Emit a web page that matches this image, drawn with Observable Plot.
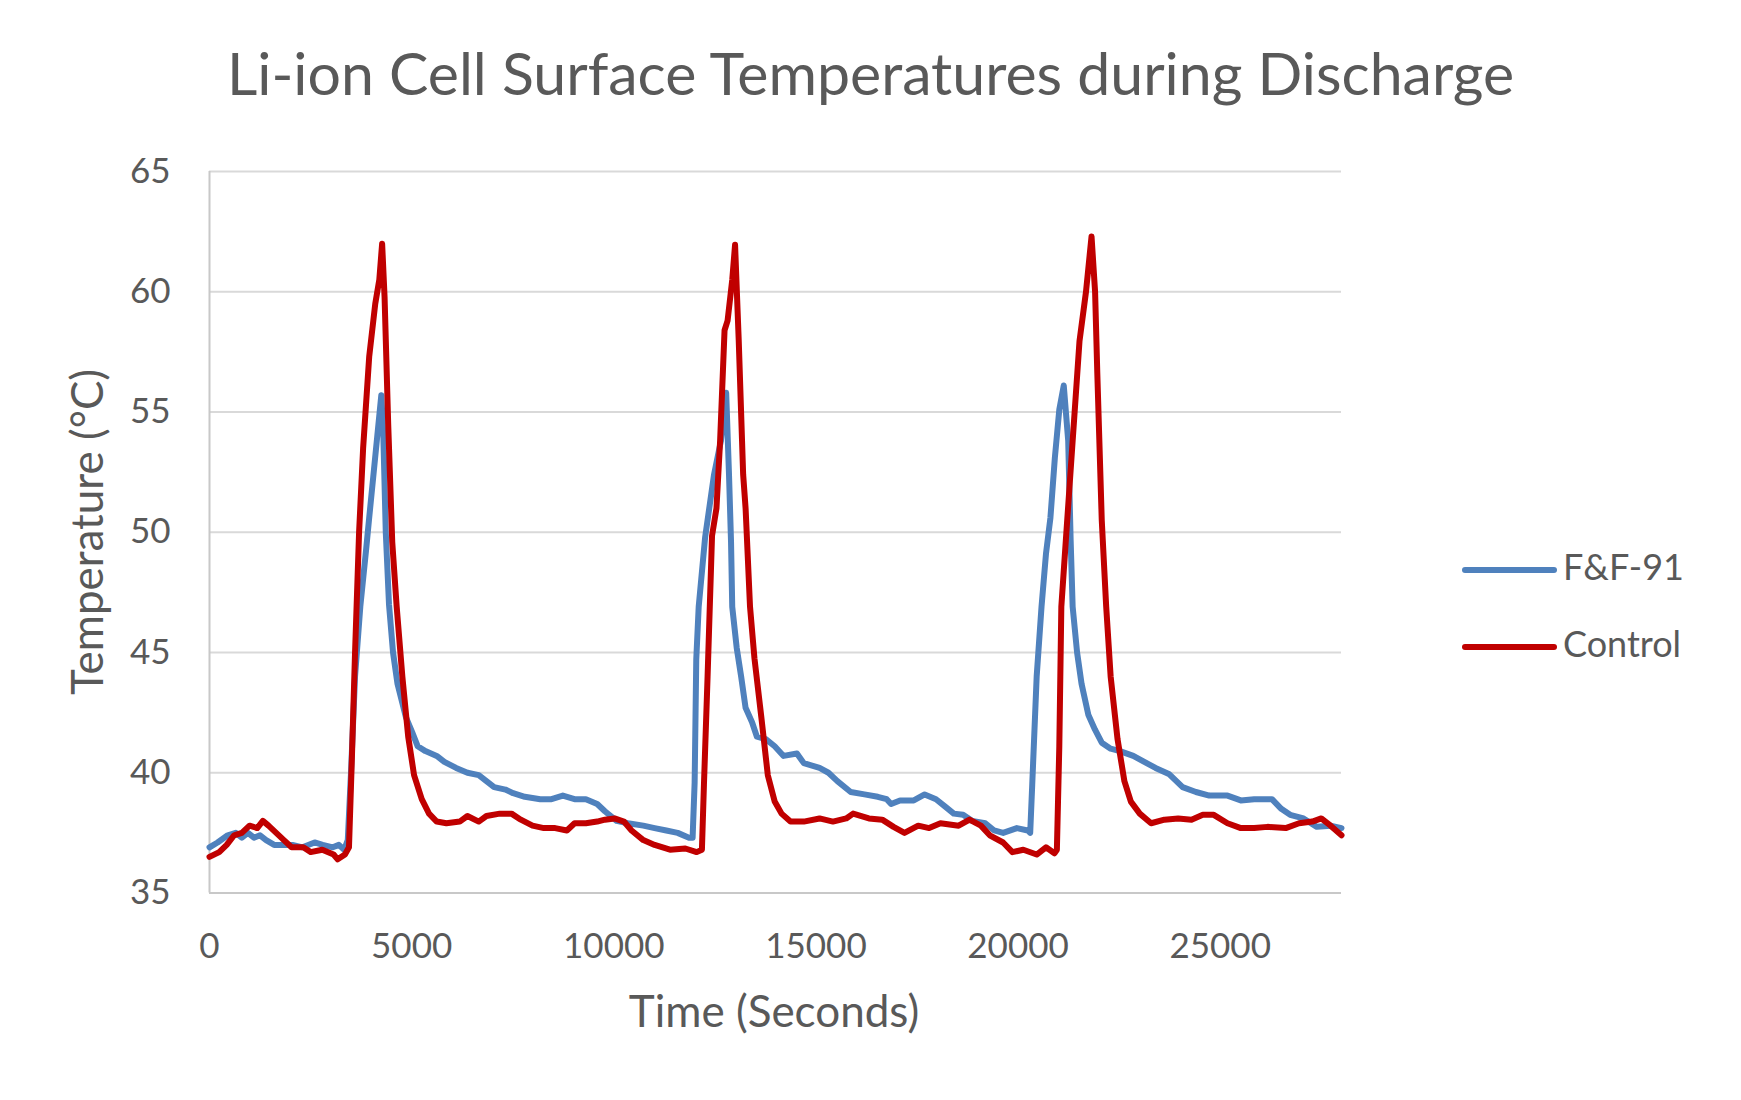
<!DOCTYPE html>
<html>
<head>
<meta charset="utf-8">
<script src="https://cdn.jsdelivr.net/npm/d3@7"></script>
<script src="https://cdn.jsdelivr.net/npm/@observablehq/plot@0.6"></script>
<style>
  html, body { margin: 0; padding: 0; background: #ffffff; }
  #wrap { position: relative; width: 1741px; height: 1100px; font-family: Lato, "Open Sans", sans-serif; color: #595959; overflow: hidden; }
  #title { height: 130px; box-sizing: border-box; padding-top: 43px; line-height: 59px; font-size: 59px; text-align: center; white-space: nowrap; color: #595959; }
  #plot svg { display: block; }
  #overlay { position: absolute; left: 0; top: 0; pointer-events: none; }
</style>
</head>
<body>
<div id="wrap">
  <div id="title">Li-ion Cell Surface Temperatures during Discharge</div>
  <div id="plot"></div>
  <svg id="overlay" width="1741" height="1100"></svg>
</div>
<script>
// ---- Data ----
const seriesNames = ["F&F-91", "Control"];
const seriesColors = ["#4F81BD", "#C00000"];

const ffTime = [0,200,450,650,800,950,1100,1250,1400,1600,1800,2050,2300,2600,2800,3050,3200,3330,3420,3500,3600,3730,3875,3950,4050,4150,4250,4300,4360,4440,4540,4650,4860,5010,5150,5340,5620,5810,6100,6380,6660,6850,7040,7320,7510,7800,8180,8460,8740,9030,9310,9590,9780,10070,10350,10730,11010,11300,11580,11860,11950,12000,12040,12100,12260,12480,12650,12780,12850,12900,12930,13040,13150,13260,13420,13540,13760,13980,14200,14530,14700,15090,15310,15530,15860,16200,16530,16750,16860,17080,17420,17690,17970,18190,18410,18640,18860,19190,19410,19630,19970,20240,20300,20350,20460,20580,20690,20800,20910,21020,21130,21240,21300,21350,21460,21570,21740,21900,22070,22290,22520,22850,23180,23400,23730,24070,24400,24730,25180,25510,25840,26280,26510,26730,27060,27390,27730,28000];
const ffTemp = [36.9,37.1,37.4,37.5,37.3,37.5,37.3,37.4,37.2,37.0,37.0,37.0,36.9,37.1,37.0,36.9,37.0,36.8,37.2,40.0,44.0,46.9,49.3,50.6,52.3,54.0,55.7,54.0,50.0,47.0,45.0,43.7,42.3,41.7,41.1,40.9,40.7,40.45,40.2,40.0,39.9,39.65,39.4,39.3,39.15,39.0,38.9,38.9,39.05,38.9,38.9,38.7,38.4,38.0,37.9,37.8,37.7,37.6,37.5,37.3,37.3,39.6,44.7,46.9,49.8,52.4,53.8,55.8,52.4,49.6,46.9,45.2,44.0,42.7,42.1,41.5,41.4,41.1,40.7,40.8,40.4,40.2,40.0,39.65,39.2,39.1,39.0,38.9,38.7,38.85,38.85,39.1,38.9,38.6,38.3,38.25,38.0,37.9,37.6,37.5,37.7,37.6,37.5,39.5,44.0,46.9,49.1,50.6,53.1,55.1,56.1,53.8,49.7,46.9,45.0,43.7,42.4,41.8,41.25,41.0,40.9,40.7,40.4,40.2,39.95,39.4,39.2,39.05,39.05,38.85,38.9,38.9,38.5,38.25,38.1,37.75,37.8,37.7];

const ctrlTime = [0,240,425,610,800,990,1180,1320,1460,1650,1840,2030,2320,2500,2790,3070,3170,3350,3450,3520,3600,3700,3800,3950,4100,4200,4270,4330,4420,4520,4630,4770,4915,5060,5250,5430,5620,5860,6190,6380,6660,6850,7180,7470,7700,7990,8270,8550,8840,9030,9310,9590,9780,10020,10250,10440,10730,11010,11390,11770,12050,12180,12230,12320,12430,12540,12630,12740,12815,12930,13000,13090,13200,13260,13370,13480,13650,13810,13980,14150,14370,14700,15090,15420,15750,15920,16310,16640,16920,17190,17530,17800,18080,18530,18800,19080,19300,19630,19860,20130,20460,20690,20900,20960,21020,21070,21185,21350,21520,21680,21817,21905,21960,22070,22180,22290,22460,22630,22790,23010,23290,23620,23960,24290,24570,24840,25180,25510,25840,26170,26620,26950,27280,27500,27730,28000];
const ctrlTemp = [36.5,36.7,37.0,37.4,37.5,37.8,37.7,38.0,37.8,37.5,37.2,36.9,36.9,36.7,36.8,36.6,36.4,36.6,36.9,40.5,45.0,50.0,53.5,57.3,59.5,60.5,62.0,59.8,54.5,49.6,46.9,44.0,41.5,39.9,38.9,38.3,37.97,37.9,37.97,38.2,37.97,38.2,38.3,38.3,38.05,37.8,37.7,37.7,37.6,37.9,37.9,37.97,38.05,38.1,37.97,37.6,37.2,37.0,36.8,36.85,36.7,36.8,39.5,44.0,49.85,51.0,53.8,58.4,58.8,60.5,61.95,58.0,52.4,51.0,46.9,44.75,42.3,39.9,38.8,38.3,37.97,37.97,38.1,37.97,38.1,38.3,38.1,38.05,37.75,37.5,37.8,37.7,37.9,37.8,38.05,37.8,37.4,37.1,36.7,36.8,36.6,36.9,36.65,36.8,41.1,46.9,49.75,53.8,57.96,60.0,62.3,60.0,56.6,50.5,46.9,44.0,41.4,39.65,38.8,38.3,37.9,38.05,38.1,38.05,38.25,38.25,37.9,37.7,37.7,37.75,37.7,37.9,37.97,38.1,37.8,37.4];

const xTicks = [0, 5000, 10000, 15000, 20000, 25000];
const yTicks = [35, 40, 45, 50, 55, 60, 65];
const xDomain = [0, 28000];
const yDomain = [35, 65];

// ---- Build table ----
const rows = [
  ...ffTime.map((t, i) => ({series: seriesNames[0], t, temp: ffTemp[i]})),
  ...ctrlTime.map((t, i) => ({series: seriesNames[1], t, temp: ctrlTemp[i]}))
];

const chart = Plot.plot({
  width: 1741,
  height: 970,
  marginTop: 41,
  marginLeft: 209,
  marginRight: 400,
  marginBottom: 207.5,
  style: {fontFamily: "Lato, 'Open Sans', sans-serif", color: "#595959", background: "#ffffff", overflow: "visible"},
  x: {domain: xDomain},
  y: {domain: yDomain},
  color: {domain: seriesNames, range: seriesColors},
  marks: [
    Plot.ruleY(yTicks.filter(d => d !== yDomain[0]), {stroke: "#D9D9D9", strokeWidth: 2}),
    Plot.ruleY([yDomain[0]], {stroke: "#C8C8C8", strokeWidth: 2}),
    Plot.ruleX([xDomain[0]], {stroke: "#C8C8C8", strokeWidth: 2}),
    Plot.axisY(yTicks, {tickSize: 0, tickPadding: 39, fontSize: 35, label: null, fill: "#595959", tickFormat: d3.format("d")}),
    Plot.axisX(xTicks, {tickSize: 0, tickPadding: 40, fontSize: 35, label: null, fill: "#595959", tickFormat: d3.format("d")}),
    Plot.line(rows, {x: "t", y: "temp", z: "series", stroke: "series", strokeWidth: 6, strokeLinejoin: "round", strokeLinecap: "round"})
  ]
});
document.getElementById("plot").appendChild(chart);

// ---- Overlay: axis titles and legend ----
const ov = d3.select("#overlay");
ov.append("text")
  .attr("x", 774).attr("y", 1027)
  .attr("text-anchor", "middle")
  .attr("font-size", 44).attr("fill", "#595959")
  .attr("font-family", "Lato, 'Open Sans', sans-serif")
  .text("Time (Seconds)");
ov.append("text")
  .attr("transform", "translate(103,532) rotate(-90)")
  .attr("text-anchor", "middle")
  .attr("font-size", 44).attr("fill", "#595959")
  .attr("font-family", "Lato, 'Open Sans', sans-serif")
  .text("Temperature (°C)");

const legendY = [570, 647];
seriesNames.forEach((name, i) => {
  const g = ov.append("g");
  g.append("line")
    .attr("x1", 1465).attr("x2", 1554)
    .attr("y1", legendY[i]).attr("y2", legendY[i])
    .attr("stroke", seriesColors[i]).attr("stroke-width", 6)
    .attr("stroke-linecap", "round");
  g.append("text")
    .attr("x", 1563).attr("y", legendY[i] + 10)
    .attr("font-size", 36).attr("fill", "#595959")
    .attr("font-family", "Lato, 'Open Sans', sans-serif")
    .text(name);
});
</script>
</body>
</html>
